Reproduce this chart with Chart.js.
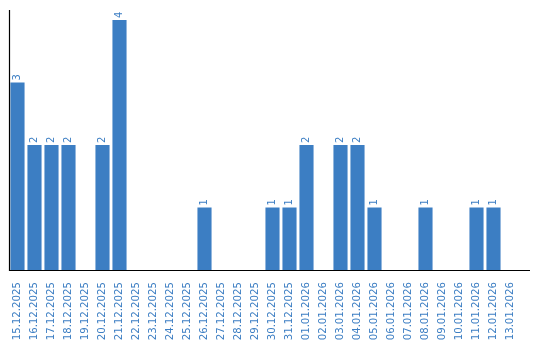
<!DOCTYPE html>
<html><head><meta charset="utf-8">
<script src="https://cdn.jsdelivr.net/npm/chart.js@4/dist/chart.umd.min.js"></script>
<style>html,body{margin:0;padding:0;background:#fff}#wrap{width:540px;height:340px}</style>
</head><body><div id="wrap"><canvas id="c"></canvas></div>
<script>
const categories = ["15.12.2025","16.12.2025","17.12.2025","18.12.2025","19.12.2025","20.12.2025","21.12.2025","22.12.2025","23.12.2025","24.12.2025","25.12.2025","26.12.2025","27.12.2025","28.12.2025","29.12.2025","30.12.2025","31.12.2025","01.01.2026","02.01.2026","03.01.2026","04.01.2026","05.01.2026","06.01.2026","07.01.2026","08.01.2026","09.01.2026","10.01.2026","11.01.2026","12.01.2026","13.01.2026"];
const counts = [3,2,2,2,0,2,4,0,0,0,0,1,0,0,0,1,1,2,0,2,2,1,0,0,1,0,0,1,1,0];
const yMax = 4.16;
const blue = "#3c7ec3";

const axesPlugin = {
  id: 'axesLines',
  afterDatasetsDraw(chart) {
    const {ctx, chartArea} = chart;
    ctx.save();
    ctx.strokeStyle = '#000';
    ctx.lineWidth = 1.2;
    ctx.beginPath();
    const x0 = Math.round(chartArea.left) + 0.5;
    const yb = Math.round(chartArea.bottom) + 0.5;
    ctx.moveTo(x0, chartArea.top);
    ctx.lineTo(x0, yb);
    ctx.lineTo(chartArea.right + 11, yb);
    ctx.stroke();
    ctx.restore();
  }
};
const valueLabels = {
  id: 'valueLabels',
  afterDatasetsDraw(chart) {
    const {ctx} = chart;
    const meta = chart.getDatasetMeta(0);
    ctx.save();
    ctx.fillStyle = blue;
    ctx.font = '10px "DejaVu Sans"';
    ctx.textAlign = 'left';
    ctx.textBaseline = 'middle';
    meta.data.forEach((bar, i) => {
      const v = chart.data.datasets[0].data[i];
      if (!v) return;
      ctx.save();
      ctx.translate(bar.x, bar.y - 2);
      ctx.rotate(-Math.PI / 2);
      ctx.fillText(String(v), 0, 0);
      ctx.restore();
    });
    ctx.restore();
  }
};

new Chart(document.getElementById('c'), {
  type: 'bar',
  data: { labels: categories, datasets: [{ data: counts, backgroundColor: blue, borderWidth: 0, categoryPercentage: 1, barPercentage: 0.83 }] },
  options: {
    responsive: true, maintainAspectRatio: false, animation: false,
    layout: { padding: { left: 9, right: 21, top: 10, bottom: 0 } },
    plugins: { legend: { display: false }, tooltip: { enabled: false } },
    scales: {
      x: {
        grid: { display: false }, border: { display: false },
        ticks: { color: blue, font: { family: 'DejaVu Sans', size: 10.2 }, minRotation: 90, maxRotation: 90, autoSkip: false, padding: 4 },
        afterFit(scale) { scale.height = 70; }
      },
      y: { display: false, min: 0, max: yMax }
    }
  },
  plugins: [axesPlugin, valueLabels]
});
</script></body></html>
